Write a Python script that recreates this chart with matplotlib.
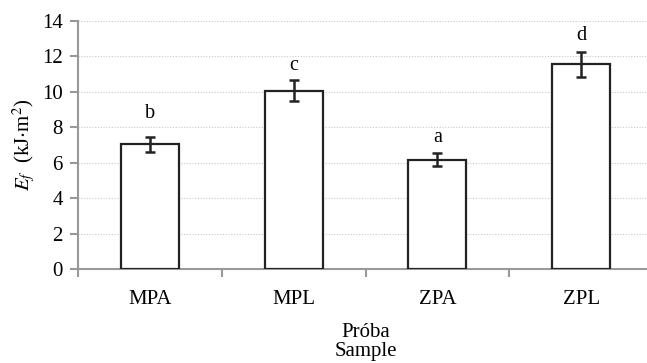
import numpy as np
import matplotlib
matplotlib.use("Agg")
import matplotlib.pyplot as plt

samples = ["MPA", "MPL", "ZPA", "ZPL"]
means = [7.05, 10.07, 6.17, 11.56]
errors = [0.42, 0.6, 0.38, 0.7]
letters = ["b", "c", "a", "d"]
letter_gap = [1.3, 0.8, 0.85, 0.9]

plt.rcParams['font.family'] = ['Liberation Serif', 'DejaVu Serif']
plt.rcParams['mathtext.fontset'] = 'stix'

fig = plt.figure(figsize=(6.47, 3.63), dpi=100)
ax = fig.add_axes([78/647, 1 - 269/363, 575/647, 248/363])

x = np.arange(len(samples)) + 0.5
ax.bar(x, means, width=0.405, color='white', edgecolor='#222222', linewidth=1.6, zorder=3)
ax.errorbar(x, means, yerr=errors, fmt='none', ecolor='#222222', elinewidth=1.8,
            capsize=3.5, capthick=1.8, zorder=4)
for xi, m, e, l, g in zip(x, means, errors, letters, letter_gap):
    ax.text(xi, m + e + g, l, ha='center', va='center', fontsize=14.5)

ax.set_xlim(0, 4)
ax.set_ylim(0, 14)
ax.set_yticks(np.arange(0, 15, 2))
ax.set_xticks([0, 1, 2, 3, 4])
ax.set_xticklabels([])
ax.set_xticks(x, minor=True)
ax.set_xticklabels(samples, minor=True)
ax.tick_params(axis='x', which='minor', length=0, pad=15, labelsize=15)
ax.tick_params(axis='x', which='major', length=6, color='#999999', width=1.5)
ax.tick_params(axis='y', length=6, color='#999999', width=1.5, labelsize=15, pad=5)

for s in ['top', 'right']:
    ax.spines[s].set_visible(False)
for s in ['left', 'bottom']:
    ax.spines[s].set_color('#999999')
    ax.spines[s].set_linewidth(1.5)

ax.yaxis.grid(True, linestyle=(0, (1, 1.5)), color='#c8c8c8', linewidth=0.8, zorder=0)
ax.set_axisbelow(True)

ax.set_ylabel(r'$E_f$  (kJ$\cdot$m$^2$)', fontsize=15, labelpad=3)
ax.set_xlabel('Próba\nSample', fontsize=15, labelpad=10, linespacing=1.05)

fig.savefig('out.png', dpi=100)
